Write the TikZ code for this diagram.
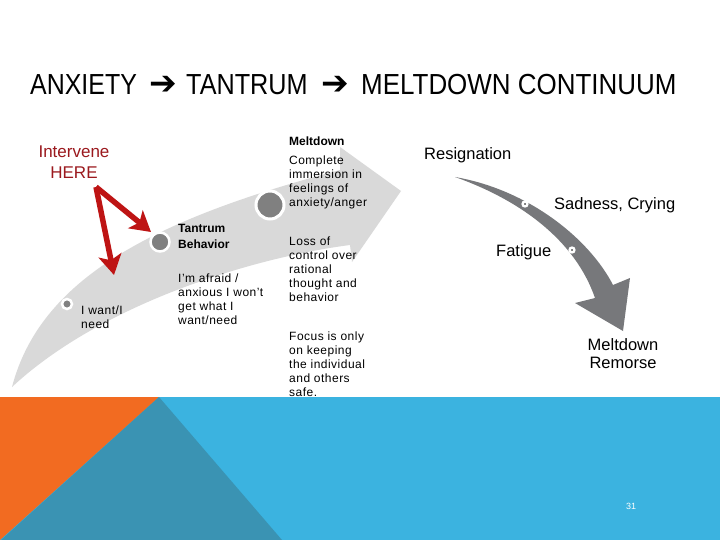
\documentclass[tikz,border=0pt]{standalone}
\usepackage{fontspec}
\setmainfont{Liberation Sans}
\newfontfamily\dejavu{DejaVu Sans}
\usetikzlibrary{arrows.meta}
\definecolor{bandorange}{RGB}{242,107,33}
\definecolor{bandteal}{RGB}{58,147,179}
\definecolor{bandblue}{RGB}{59,179,224}
\definecolor{lightarrow}{RGB}{217,217,217}
\definecolor{darkarrow}{RGB}{119,120,123}
\definecolor{dotgray}{RGB}{128,128,128}
\definecolor{redarrow}{RGB}{190,20,20}
\definecolor{redtext}{RGB}{155,25,30}
\tikzset{
  body/.style={anchor=north west, inner sep=0pt, align=left, font=\fontsize{12}{14}\selectfont\addfontfeatures{LetterSpace=4}},
  bodybold/.style={anchor=north west, inner sep=0pt, align=left, font=\fontsize{12}{16}\selectfont\bfseries},
  big/.style={inner sep=0pt, font=\fontsize{16.5}{18}\selectfont},
  titleword/.style={anchor=west, inner sep=0pt, font=\fontsize{29}{29}\selectfont},
  titlearrow/.style={anchor=west, inner sep=0pt, font=\dejavu\fontsize{33}{33}\selectfont},
  bigdot/.style={circle, fill=dotgray, draw=white, inner sep=0pt},
  smalldot/.style={circle, fill=dotgray, draw=white, line width=2.2pt, inner sep=0pt, minimum size=5pt},
  redarr/.style={draw=redarrow, line width=5.5pt, -{Stealth[length=20pt,width=23pt,inset=5pt]}}
}
\begin{document}
\begin{tikzpicture}[x=1pt,y=-1pt]
\useasboundingbox (0,0) rectangle (720,540);
\fill[white] (0,0) rectangle (720,540);
% bottom band
\fill[bandblue] (0,397) rectangle (720,540);
\fill[bandorange] (0,397) -- (159,397) -- (0,540) -- cycle;
\fill[bandteal] (159,397) -- (282,540) -- (1,540) -- cycle;
% title
\node[titleword] (tw1) at (30,85) {\scalebox{0.86}[1]{ANXIETY}};
\node[titlearrow] (ta1) at (149,85) {➔};
\node[titleword] (tw2) at (186,85) {\scalebox{0.87}[1]{TANTRUM}};
\node[titlearrow] (ta2) at (321,85) {➔};
\node[titleword] (tw3) at (361,85) {\scalebox{0.895}[1]{MELTDOWN CONTINUUM}};
% light gray arrow
\fill[lightarrow] (12,387) .. controls (40,280) and (150,220) .. (340,170)
  -- (340,147) -- (401,191) -- (352,262) -- (350,245)
  .. controls (250,258) and (100,305) .. (12,387) -- cycle;
% dark gray arrow
\fill[darkarrow] (455,177) .. controls (530,190) and (590,240) .. (613,285)
  -- (630,278) -- (623,331) -- (575,303) -- (595,298)
  .. controls (575,240) and (520,200) .. (455,177) -- cycle;
% dots on light arrow
\node[bigdot, minimum size=28pt, line width=3pt] (dmelt) at (270,205) {};
\node[bigdot, minimum size=19pt, line width=2.5pt] (dtant) at (160,242) {};
\node[bigdot, minimum size=10pt, line width=2.5pt] (dwant) at (67,304) {};
% dots on dark arrow
\node[smalldot] (dsad) at (525,204) {};
\node[smalldot] (dfat) at (572,250) {};
% red arrows
\coordinate (hstart) at (96,187);
\coordinate (htip1) at (151,232);
\coordinate (htip2) at (114,275);
\node[inner sep=0pt, align=center, text=redtext, anchor=north, font=\fontsize{17}{21}\selectfont] (intervene) at (74,146) {Intervene\\HERE};
\draw[redarr] (hstart) -- (htip1);
\draw[redarr] (hstart) -- (htip2);
% texts on light arrow
\node[bodybold] (tmelt) at (289,137) {Meltdown};
\node[body] (tcomplete) at (289,156) {Complete\\immersion in\\feelings of\\anxiety/anger};
\node[bodybold] (ttant) at (178,224) {Tantrum\\Behavior};
\node[body] (tafraid) at (178,274) {I'm afraid /\\anxious I won't\\get what I\\want/need};
\node[body] (twant) at (81,306) {I want/I\\need};
\node[body] (tloss) at (289,237) {Loss of\\control over\\rational\\thought and\\behavior};
\node[body] (tfocus) at (289,332) {Focus is only\\on keeping\\the individual\\and others\\safe.};
% texts on dark arrow
\node[big, anchor=base west] (tresign) at (424,160) {Resignation};
\node[big, anchor=base west] (tsad) at (554,210) {Sadness, Crying};
\node[big, anchor=base west] (tfat) at (496,256) {Fatigue};
\node[big, anchor=north, align=center] (tremorse) at (623,338) {Meltdown\\Remorse};
% page number
\node[text=white, font=\fontsize{9}{9}\selectfont, inner sep=0pt] (page) at (631,506) {31};
\end{tikzpicture}
\end{document}
